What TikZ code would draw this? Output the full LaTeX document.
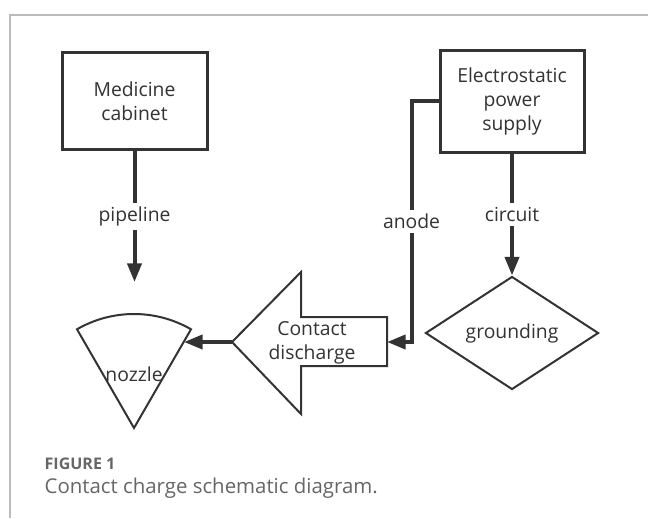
\documentclass[tikz,border=0pt]{standalone}
\usepackage{fontspec}
\setmainfont{Open Sans}
\usetikzlibrary{arrows.meta,shapes.geometric,positioning}
\definecolor{ink}{HTML}{333333}
\definecolor{framegray}{HTML}{BBBBBB}
\definecolor{capgray}{HTML}{666666}

\begin{document}
\begin{tikzpicture}[x=0.75pt,y=-0.75pt,>={Triangle[length=14pt,width=10.5pt]},
	font=\fontsize{14.5}{18}\selectfont]
	\tikzstyle{every node}=[text=ink]
	\tikzstyle{block}=[draw=ink,line width=2.25pt,align=center,inner sep=2pt]
	\tikzstyle{link}=[->,draw=ink,line width=3pt]
	\tikzstyle{thin shape}=[draw=ink,line width=1.5pt]
	\tikzstyle{lbl}=[fill=white,inner sep=3pt]
	
	% page and frame
	\fill[white] (0,0) rectangle (648,518);
	\useasboundingbox (0,0) rectangle (648,518);
	\draw[framegray,line width=1.2pt] (648,15) -- (10,15) -- (10,518);
	
	\node[block,minimum width=108.75pt,minimum height=72.75pt] (cabinet) at (134.5,101) {Medicine\\cabinet};
	\node[block,minimum width=108pt,minimum height=76.5pt] (supply) at (512,101) {Electrostatic\\power\\supply};
	\node[thin shape,diamond,aspect=1.53,inner sep=0pt,minimum width=129.75pt,
		minimum height=84.75pt] (ground) at (512,333) {grounding};
	
	% contact discharge arrow
	\draw[thin shape] (387,317) -- (301,317) -- (301,272) -- (232,342) -- (301,414)
		-- (301,366) -- (387,366) -- cycle;
	\coordinate (dischargeTip) at (232,342);
	\coordinate (dischargeEnd) at (387,342);
	\node[align=center] (discharge) at (312,343) {Contact\\discharge};
	
	% nozzle
	\coordinate (nozzleTip) at (134,428);
	\draw[thin shape] (nozzleTip) -- ++(120:85.5pt) arc[start angle=120,end angle=60,radius=85.5pt] -- cycle;
	\coordinate (nozzleEdge) at (184,342);
	\node (nozzle) at (134,374) {nozzle};
	\coordinate (pipeEnd) at (134.5,282);
	
	\draw[link] (cabinet.south) -- node[lbl] {pipeline} (pipeEnd);
	\draw[link] (supply.south) -- node[lbl] {circuit} (ground.north);
	\draw[link] (supply.west) -- ++(-27,0) |- node[lbl,pos=0.25] {anode} (dischargeEnd);
	\draw[link] (dischargeTip) -- (nozzleEdge);
	
	% caption
	\node[anchor=west,text=capgray,font=\fontsize{12}{14}\selectfont\bfseries] (figlabel) at (40,464) {FIGURE 1};
	\node[anchor=west,text=capgray,font=\fontsize{15.3}{18}\selectfont] (caption) at (40,488) {Contact charge schematic diagram.};
	
\end{tikzpicture}
\end{document}
